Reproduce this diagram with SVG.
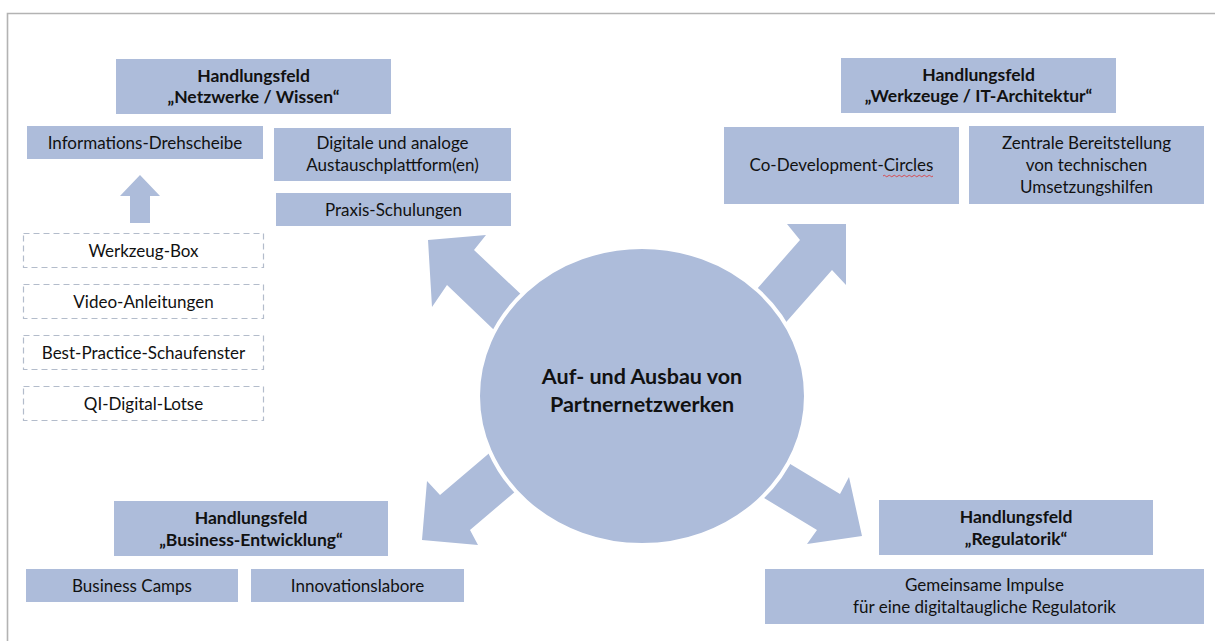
<svg xmlns="http://www.w3.org/2000/svg" width="1215" height="641" viewBox="0 0 1215 641">
<style>
.box{fill:#adbcda;}
.dash{fill:#fff;stroke:#b3bccb;stroke-width:1.2;stroke-dasharray:6 4;}
.arrow{fill:#adbcda;}
text{font-family:Lato,"Liberation Sans",sans-serif;font-size:17px;fill:#111;text-anchor:middle;}
.b{font-weight:bold;font-size:17.5px;}
.c{font-weight:bold;font-size:21.5px;}
</style>
<rect width="1215" height="641" fill="#fff"/>
<path d="M7.5 641 V13.5 H1215" fill="none" stroke="#b3b3b3" stroke-width="1.6"/>
<g id="connectors">
<polygon class="arrow" points="140,175 160,196 150,196 150,223 130,223 130,196 120,196"/>
<polygon class="arrow" points="428,240 486,235 474,250 544,316 517,352 447,285 432,307"/>
<polygon class="arrow" points="787,224 846,224 846,285 832,270 744,370 712,340 800,240"/>
<polygon class="arrow" points="422,540 427,481 440,495 560,393 590,428 470,530 478,545"/>
<polygon class="arrow" points="862,536 849,477 840,494 696,407 673,443 817,530 807,544"/>
</g>
<g id="center">
<ellipse cx="642" cy="396" rx="164" ry="149" fill="#adbcda" stroke="#fff" stroke-width="4"/>
<text class="c" x="642" y="384">Auf- und Ausbau von</text>
<text class="c" x="642" y="412">Partnernetzwerken</text>
</g>
<g id="hf-netzwerke">
<rect class="box" x="116" y="59" width="275" height="55"/>
<text class="b" x="253.5" y="82">Handlungsfeld</text>
<text class="b" x="253.5" y="103">„Netzwerke / Wissen“</text>
</g>
<g id="info-drehscheibe">
<rect class="box" x="27" y="126" width="236" height="33"/>
<text x="145" y="148.5">Informations-Drehscheibe</text>
</g>
<g id="austauschplattform">
<rect class="box" x="274" y="128" width="237" height="53"/>
<text x="392.5" y="149">Digitale und analoge</text>
<text x="392.5" y="171">Austauschplattform(en)</text>
</g>
<g id="praxis">
<rect class="box" x="276" y="193" width="235" height="33"/>
<text x="393.5" y="215.5">Praxis-Schulungen</text>
</g>
<g id="werkzeug-box">
<rect class="dash" x="23.5" y="233.5" width="240" height="34"/>
<text x="143.5" y="256.5">Werkzeug-Box</text>
</g>
<g id="video">
<rect class="dash" x="23.5" y="284.5" width="240" height="34"/>
<text x="143.5" y="307.5">Video-Anleitungen</text>
</g>
<g id="best-practice">
<rect class="dash" x="23.5" y="335.5" width="240" height="34"/>
<text x="143.5" y="358.5">Best-Practice-Schaufenster</text>
</g>
<g id="lotse">
<rect class="dash" x="23.5" y="386.5" width="240" height="34"/>
<text x="143.5" y="409.5">QI-Digital-Lotse</text>
</g>
<g id="hf-werkzeuge">
<rect class="box" x="841" y="58" width="275" height="55"/>
<text class="b" x="978.5" y="81">Handlungsfeld</text>
<text class="b" x="978.5" y="102">„Werkzeuge / IT-Architektur“</text>
</g>
<g id="co-dev">
<rect class="box" x="724" y="127" width="235" height="77"/>
<text x="841.5" y="171">Co-Development-Circles</text>
<path d="M883 176 q1.25 -1.5 2.5 0 t2.5 0 t2.5 0 t2.5 0 t2.5 0 t2.5 0 t2.5 0 t2.5 0 t2.5 0 t2.5 0 t2.5 0 t2.5 0 t2.5 0 t2.5 0 t2.5 0 t2.5 0 t2.5 0 t2.5 0 t2.5 0 t2.5 0" fill="none" stroke="#e03030" stroke-width="0.8"/>
</g>
<g id="zentrale">
<rect class="box" x="969" y="126" width="235" height="78"/>
<text x="1086.5" y="149">Zentrale Bereitstellung</text>
<text x="1086.5" y="171">von technischen</text>
<text x="1086.5" y="193">Umsetzungshilfen</text>
</g>
<g id="hf-business">
<rect class="box" x="114" y="501" width="274" height="55"/>
<text class="b" x="251" y="524">Handlungsfeld</text>
<text class="b" x="251" y="546">„Business-Entwicklung“</text>
</g>
<g id="business-camps">
<rect class="box" x="26" y="569" width="212" height="33"/>
<text x="132" y="591.5">Business Camps</text>
</g>
<g id="innovationslabore">
<rect class="box" x="251" y="569" width="213" height="33"/>
<text x="357.5" y="591.5">Innovationslabore</text>
</g>
<g id="hf-regulatorik">
<rect class="box" x="879" y="500" width="274" height="55"/>
<text class="b" x="1016" y="523">Handlungsfeld</text>
<text class="b" x="1016" y="545">„Regulatorik“</text>
</g>
<g id="impulse">
<rect class="box" x="765" y="569" width="439" height="55"/>
<text x="984.5" y="591">Gemeinsame Impulse</text>
<text x="984.5" y="613">für eine digitaltaugliche Regulatorik</text>
</g>
</svg>
